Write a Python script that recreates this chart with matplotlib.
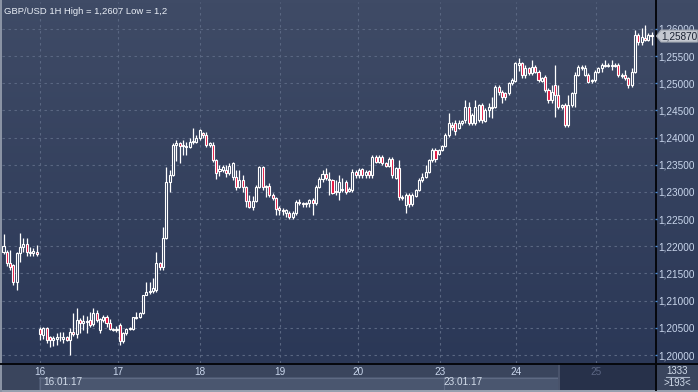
import numpy as np
import matplotlib
matplotlib.use("Agg")
import matplotlib.pyplot as plt
from matplotlib.patches import Rectangle, Polygon
from matplotlib.colors import LinearSegmentedColormap
from matplotlib.transforms import blended_transform_factory

# ---------------- data (GBP/USD 1H) ----------------
opens = [1.2190, 1.2190, 1.2170, 1.2165, 1.2134, 1.2188, 1.2199, 1.2205, 1.2190, 1.2188, 1.2190,
         1.2047, 1.2037, 1.2050, 1.2033, 1.2028, 1.2030, 1.2033, 1.2030, 1.2033, 1.2028,
         1.2043, 1.2039, 1.2064, 1.2059, 1.2062, 1.2064, 1.2057, 1.2077, 1.2046, 1.2064,
         1.2070, 1.2059, 1.2048, 1.2046, 1.2055, 1.2025, 1.2041, 1.2048, 1.2048, 1.2069,
         1.2070, 1.2077, 1.2111, 1.2116, 1.2118, 1.2120, 1.2170, 1.2162, 1.2215, 1.2318,
         1.2331, 1.2387, 1.2390, 1.2386, 1.2384, 1.2383, 1.2392, 1.2392, 1.2399, 1.2409,
         1.2405, 1.2387, 1.2387, 1.2359, 1.2339, 1.2341, 1.2341, 1.2335, 1.2327, 1.2327,
         1.2309, 1.2322, 1.2309, 1.2283, 1.2272, 1.2283, 1.2309, 1.2346, 1.2311, 1.2311,
         1.2295, 1.2289, 1.2271, 1.2267, 1.2261, 1.2261, 1.2254, 1.2261, 1.2281, 1.2279,
         1.2277, 1.2279, 1.2285, 1.2279, 1.2309, 1.2324, 1.2333, 1.2324, 1.2322, 1.2302,
         1.2300, 1.2304, 1.2318, 1.2302, 1.2304, 1.2337, 1.2331, 1.2343, 1.2331, 1.2339,
         1.2331, 1.2364, 1.2355, 1.2364, 1.2353, 1.2348, 1.2361, 1.2326, 1.2344, 1.2291,
         1.2276, 1.2295, 1.2278, 1.2293, 1.2304, 1.2322, 1.2328, 1.2337, 1.2359, 1.2377,
         1.2370, 1.2377, 1.2385, 1.2405, 1.2423, 1.2427, 1.2418, 1.2427, 1.2433, 1.2456,
         1.2427, 1.2427, 1.2433, 1.2460, 1.2431, 1.2451, 1.2454, 1.2456, 1.2493, 1.2484,
         1.2482, 1.2482, 1.2501, 1.2504, 1.2534, 1.2538, 1.2515, 1.2528, 1.2519, 1.2530,
         1.2521, 1.2504, 1.2512, 1.2488, 1.2469, 1.2497, 1.2479, 1.2456, 1.2460, 1.2423,
         1.2460, 1.2482, 1.2515, 1.2530, 1.2515, 1.2515, 1.2504, 1.2506, 1.2521, 1.2528,
         1.2534, 1.2531, 1.2531, 1.2534, 1.2534, 1.2513, 1.2515, 1.2510, 1.2497, 1.2521,
         1.2589, 1.2576, 1.2583, 1.2580, 1.2589]
highs = [1.2222, 1.2193, 1.2193, 1.2168, 1.2190, 1.2225, 1.2216, 1.2216, 1.2199, 1.2197, 1.2203,
         1.2052, 1.2052, 1.2052, 1.2035, 1.2035, 1.2040, 1.2043, 1.2043, 1.2035, 1.2050,
         1.2077, 1.2087, 1.2068, 1.2074, 1.2071, 1.2080, 1.2087, 1.2083, 1.2068, 1.2074,
         1.2074, 1.2066, 1.2050, 1.2053, 1.2059, 1.2043, 1.2050, 1.2052, 1.2070, 1.2079,
         1.2079, 1.2111, 1.2134, 1.2134, 1.2142, 1.2190, 1.2172, 1.2236, 1.2346, 1.2341,
         1.2390, 1.2396, 1.2392, 1.2396, 1.2392, 1.2399, 1.2418, 1.2405, 1.2416, 1.2411,
         1.2411, 1.2392, 1.2392, 1.2361, 1.2350, 1.2350, 1.2350, 1.2354, 1.2355, 1.2341,
         1.2341, 1.2331, 1.2311, 1.2294, 1.2292, 1.2313, 1.2348, 1.2348, 1.2313, 1.2317,
         1.2298, 1.2291, 1.2274, 1.2270, 1.2269, 1.2265, 1.2265, 1.2285, 1.2287, 1.2282,
         1.2282, 1.2287, 1.2289, 1.2313, 1.2328, 1.2341, 1.2344, 1.2337, 1.2324, 1.2322,
         1.2331, 1.2326, 1.2322, 1.2309, 1.2343, 1.2341, 1.2344, 1.2344, 1.2340, 1.2341,
         1.2368, 1.2368, 1.2368, 1.2368, 1.2355, 1.2364, 1.2364, 1.2346, 1.2359, 1.2295,
         1.2298, 1.2298, 1.2298, 1.2306, 1.2326, 1.2335, 1.2350, 1.2361, 1.2381, 1.2381,
         1.2379, 1.2387, 1.2409, 1.2445, 1.2429, 1.2433, 1.2433, 1.2433, 1.2469, 1.2466,
         1.2445, 1.2469, 1.2462, 1.2464, 1.2455, 1.2464, 1.2475, 1.2497, 1.2497, 1.2488,
         1.2484, 1.2502, 1.2510, 1.2540, 1.2547, 1.2540, 1.2534, 1.2530, 1.2543, 1.2534,
         1.2525, 1.2512, 1.2515, 1.2491, 1.2497, 1.2534, 1.2497, 1.2462, 1.2464, 1.2479,
         1.2484, 1.2521, 1.2534, 1.2534, 1.2534, 1.2519, 1.2508, 1.2525, 1.2530, 1.2538,
         1.2543, 1.2538, 1.2543, 1.2538, 1.2538, 1.2519, 1.2525, 1.2512, 1.2528, 1.2598,
         1.2592, 1.2602, 1.2607, 1.2592, 1.2594]
lows = [1.2186, 1.2163, 1.2156, 1.2129, 1.2120, 1.2171, 1.2190, 1.2183, 1.2183, 1.2183, 1.2183,
        1.2028, 1.2030, 1.2023, 1.2015, 1.2016, 1.2019, 1.2025, 1.2022, 1.2026, 1.2000,
        1.2035, 1.2032, 1.2040, 1.2046, 1.2040, 1.2052, 1.2053, 1.2061, 1.2040, 1.2060,
        1.2052, 1.2046, 1.2044, 1.2042, 1.2019, 1.2023, 1.2037, 1.2046, 1.2046, 1.2066,
        1.2068, 1.2075, 1.2110, 1.2113, 1.2114, 1.2116, 1.2157, 1.2157, 1.2213, 1.2300,
        1.2329, 1.2357, 1.2353, 1.2368, 1.2368, 1.2381, 1.2389, 1.2390, 1.2396, 1.2399,
        1.2383, 1.2383, 1.2355, 1.2324, 1.2330, 1.2337, 1.2328, 1.2331, 1.2322, 1.2304,
        1.2307, 1.2300, 1.2272, 1.2270, 1.2267, 1.2281, 1.2307, 1.2304, 1.2291, 1.2291,
        1.2285, 1.2258, 1.2258, 1.2258, 1.2254, 1.2250, 1.2250, 1.2258, 1.2276, 1.2272,
        1.2272, 1.2272, 1.2258, 1.2276, 1.2307, 1.2318, 1.2322, 1.2295, 1.2296, 1.2295,
        1.2285, 1.2300, 1.2296, 1.2300, 1.2300, 1.2326, 1.2326, 1.2326, 1.2326, 1.2326,
        1.2326, 1.2353, 1.2353, 1.2350, 1.2346, 1.2346, 1.2326, 1.2324, 1.2285, 1.2285,
        1.2261, 1.2272, 1.2274, 1.2291, 1.2302, 1.2318, 1.2326, 1.2335, 1.2355, 1.2355,
        1.2368, 1.2376, 1.2383, 1.2401, 1.2414, 1.2405, 1.2416, 1.2423, 1.2427, 1.2423,
        1.2423, 1.2423, 1.2429, 1.2427, 1.2429, 1.2438, 1.2436, 1.2454, 1.2479, 1.2464,
        1.2469, 1.2479, 1.2497, 1.2502, 1.2523, 1.2510, 1.2510, 1.2515, 1.2515, 1.2519,
        1.2502, 1.2502, 1.2484, 1.2464, 1.2464, 1.2438, 1.2453, 1.2453, 1.2420, 1.2420,
        1.2456, 1.2456, 1.2513, 1.2525, 1.2513, 1.2501, 1.2501, 1.2502, 1.2519, 1.2521,
        1.2530, 1.2530, 1.2525, 1.2530, 1.2512, 1.2510, 1.2506, 1.2491, 1.2493, 1.2519,
        1.2571, 1.2571, 1.2578, 1.2578, 1.2571]
closes = [1.2200, 1.2170, 1.2162, 1.2134, 1.2188, 1.2199, 1.2205, 1.2190, 1.2188, 1.2191, 1.2185,
          1.2038, 1.2050, 1.2028, 1.2028, 1.2031, 1.2033, 1.2034, 1.2033, 1.2028, 1.2043,
          1.2039, 1.2064, 1.2059, 1.2063, 1.2061, 1.2055, 1.2077, 1.2065, 1.2066, 1.2070,
          1.2059, 1.2048, 1.2046, 1.2048, 1.2025, 1.2041, 1.2048, 1.2050, 1.2070, 1.2070,
          1.2077, 1.2111, 1.2116, 1.2118, 1.2123, 1.2170, 1.2162, 1.2215, 1.2318, 1.2331,
          1.2387, 1.2390, 1.2385, 1.2384, 1.2382, 1.2392, 1.2393, 1.2399, 1.2414, 1.2405,
          1.2387, 1.2390, 1.2359, 1.2335, 1.2342, 1.2346, 1.2335, 1.2348, 1.2353, 1.2309,
          1.2322, 1.2309, 1.2283, 1.2272, 1.2283, 1.2309, 1.2346, 1.2309, 1.2309, 1.2295,
          1.2289, 1.2269, 1.2267, 1.2265, 1.2267, 1.2254, 1.2261, 1.2281, 1.2279, 1.2277,
          1.2279, 1.2285, 1.2279, 1.2309, 1.2324, 1.2333, 1.2326, 1.2322, 1.2298, 1.2300,
          1.2318, 1.2306, 1.2300, 1.2306, 1.2337, 1.2331, 1.2341, 1.2331, 1.2337, 1.2331,
          1.2364, 1.2355, 1.2364, 1.2353, 1.2348, 1.2361, 1.2331, 1.2344, 1.2291, 1.2289,
          1.2295, 1.2278, 1.2295, 1.2304, 1.2322, 1.2328, 1.2337, 1.2359, 1.2377, 1.2361,
          1.2377, 1.2385, 1.2405, 1.2427, 1.2420, 1.2412, 1.2427, 1.2431, 1.2456, 1.2427,
          1.2442, 1.2456, 1.2460, 1.2433, 1.2451, 1.2456, 1.2456, 1.2493, 1.2484, 1.2475,
          1.2475, 1.2501, 1.2506, 1.2538, 1.2538, 1.2515, 1.2528, 1.2519, 1.2530, 1.2521,
          1.2506, 1.2510, 1.2488, 1.2469, 1.2484, 1.2479, 1.2456, 1.2460, 1.2423, 1.2460,
          1.2482, 1.2515, 1.2530, 1.2528, 1.2528, 1.2502, 1.2506, 1.2521, 1.2528, 1.2534,
          1.2531, 1.2533, 1.2534, 1.2532, 1.2515, 1.2515, 1.2510, 1.2497, 1.2521, 1.2589,
          1.2576, 1.2585, 1.2580, 1.2589, 1.2587]

price_ticks = [1.20, 1.205, 1.21, 1.215, 1.22, 1.225, 1.23, 1.235, 1.24, 1.245, 1.25, 1.255, 1.26]
day_labels = ["16", "17", "18", "19", "20", "23", "24", "25"]
day_pos = [11, 34.5, 59, 83.3, 106.7, 131.3, 154.3, 178.2]
date_labels = ["16.01.17", "23.01.17"]
date_pos = [11, 131.3]
last_price = 1.2587
title = "GBP/USD 1H High = 1,2607 Low = 1,2"
bars_total = "1333"
bars_visible = ">193<"

# ---------------- figure ----------------
W, H = 698, 392
FONT = "Liberation Sans"
fig = plt.figure(figsize=(W / 100, H / 100), dpi=100)
fig.patch.set_facecolor("#3a455e")

bg = fig.add_axes([0, 0, 1, 1])
bg.axis("off")


def grad(x0, x1, y0, y1, c0, c1):
    cmap = LinearSegmentedColormap.from_list("g", [c0, c1])
    bg.imshow(np.linspace(0, 1, 100).reshape(-1, 1), cmap=cmap, extent=(x0, x1, y1, y0),
              aspect="auto", interpolation="bilinear", zorder=0)


def rect(x0, y0, x1, y1, color, z=1):
    bg.add_patch(Rectangle((x0, y0), x1 - x0, y1 - y0, facecolor=color, edgecolor="none", zorder=z))


TOP_C, BOT_C = "#3f4b66", "#2b3857"
grad(0, W, 0, 363, TOP_C, BOT_C)
# bottom panels
rect(0, 363, W, H, "#3a455d")
rect(39, 377, 558, 390, "#4a566f")
bg.plot([39, 558], [377.5, 377.5], color="#5e6a83", lw=0.8, zorder=2)
bg.plot([39.5, 39.5], [377, 390], color="#5e6a83", lw=0.8, zorder=2)
bg.plot([443.5, 443.5], [377, 390], color="#5e6a83", lw=0.8, zorder=2)
rect(558, 364, 655, 390, "#27314a", z=2)
bg.plot([558.5, 558.5], [364, 390], color="#505b72", lw=1.2, zorder=3)
rect(0, 389.5, W, H, "#979fae", z=3)
rect(0, 0, 1.5, H, "#8a93a4", z=3)
bg.plot([0, W], [363.5, 363.5], color="#05070c", lw=1.4, zorder=4)
bg.plot([655.5, 655.5], [0, 390], color="#05070c", lw=1.4, zorder=4)
bg.set_xlim(0, W)
bg.set_ylim(H, 0)

# ---------------- main price axes ----------------
ax = fig.add_axes([2 / W, (H - 363) / H, 653 / W, 361 / H])
ax.set_facecolor("none")
for s in ax.spines.values():
    s.set_visible(False)

n = len(closes)
spacing = 648.0 / (n - 1)
ax.set_xlim(-1.5 / spacing, (n - 1) + 3.5 / spacing)
ax.set_ylim(1.198528, 1.264968)

bw = 0.62
for i in range(n):
    o, h, l, c = opens[i], highs[i], lows[i], closes[i]
    ax.vlines(i, l, h, color="white", lw=0.9, zorder=3)
    lo, hi = min(o, c), max(o, c)
    height = max(hi - lo, 0.00006)
    fc = "#e3103c" if c < o else "#34415d"
    ax.add_patch(Rectangle((i - bw / 2, lo), bw, height, facecolor=fc, edgecolor="white",
                           lw=0.8, zorder=4))

ax.set_yticks(price_ticks)
ax.set_yticklabels([f"{p:.5f}".replace(".", ",") for p in price_ticks])
ax.yaxis.tick_right()
ax.tick_params(axis="y", colors="#4f8fd8", length=1.6, width=1, pad=0.8, labelsize=7.2,
               labelcolor="#c9d6ec")
ax.set_xticks(day_pos)
ax.set_xticklabels(day_labels)
ax.tick_params(axis="x", length=0, pad=3.2, labelsize=7.2, labelcolor="#c9d6ec")
for lab in ax.get_xticklabels() + ax.get_yticklabels():
    lab.set_fontfamily(FONT)
ax.get_xticklabels()[-1].set_color("#5b6683")
ax.grid(True, color="#5a6782", lw=0.8, linestyle=(0, (2.2, 3.2)), zorder=1)
ax.set_axisbelow(True)

for lbl, pos in zip(date_labels, date_pos):
    ax.annotate(lbl, xy=(pos, 0), xycoords=("data", "axes fraction"), xytext=(2.5, -14),
                textcoords="offset points", ha="left", va="center", fontsize=7.2,
                color="#d2dcea", family=FONT, annotation_clip=False)

ax.text(0.003, 0.987, title, transform=ax.transAxes, ha="left", va="top", fontsize=6.8,
        color="#e8edf5", family=FONT)

# ---------------- overlay (last price marker, bar counts) ----------------
ov = fig.add_axes([0, 0, 1, 1])
ov.axis("off")
ov.set_xlim(0, W)
ov.set_ylim(H, 0)
tr = blended_transform_factory(ov.transData, ax.transData)
ph = 0.0011
ov.add_patch(Polygon([(656.5, last_price), (661.0, last_price + ph), (697.5, last_price + ph),
                      (697.5, last_price - ph), (661.0, last_price - ph)], closed=True,
                     facecolor="#c4c8d0", edgecolor="#a0a6b1", lw=0.8, transform=tr, zorder=5))
ov.text(661.5, last_price, f"{last_price:.5f}".replace(".", ","), transform=tr, ha="left",
        va="center", fontsize=7.2, color="#1b2333", family=FONT, zorder=6)

ov.text(677, 370.5, bars_total, ha="center", va="center", fontsize=7.0, color="#d2dcea", family=FONT)
ov.plot([666, 689], [376.5, 376.5], color="#a9b4c6", lw=0.8)
ov.text(677, 382.5, bars_visible, ha="center", va="center", fontsize=7.0, color="#d2dcea", family=FONT)

fig.savefig("out.png", dpi=100, facecolor=fig.get_facecolor())
